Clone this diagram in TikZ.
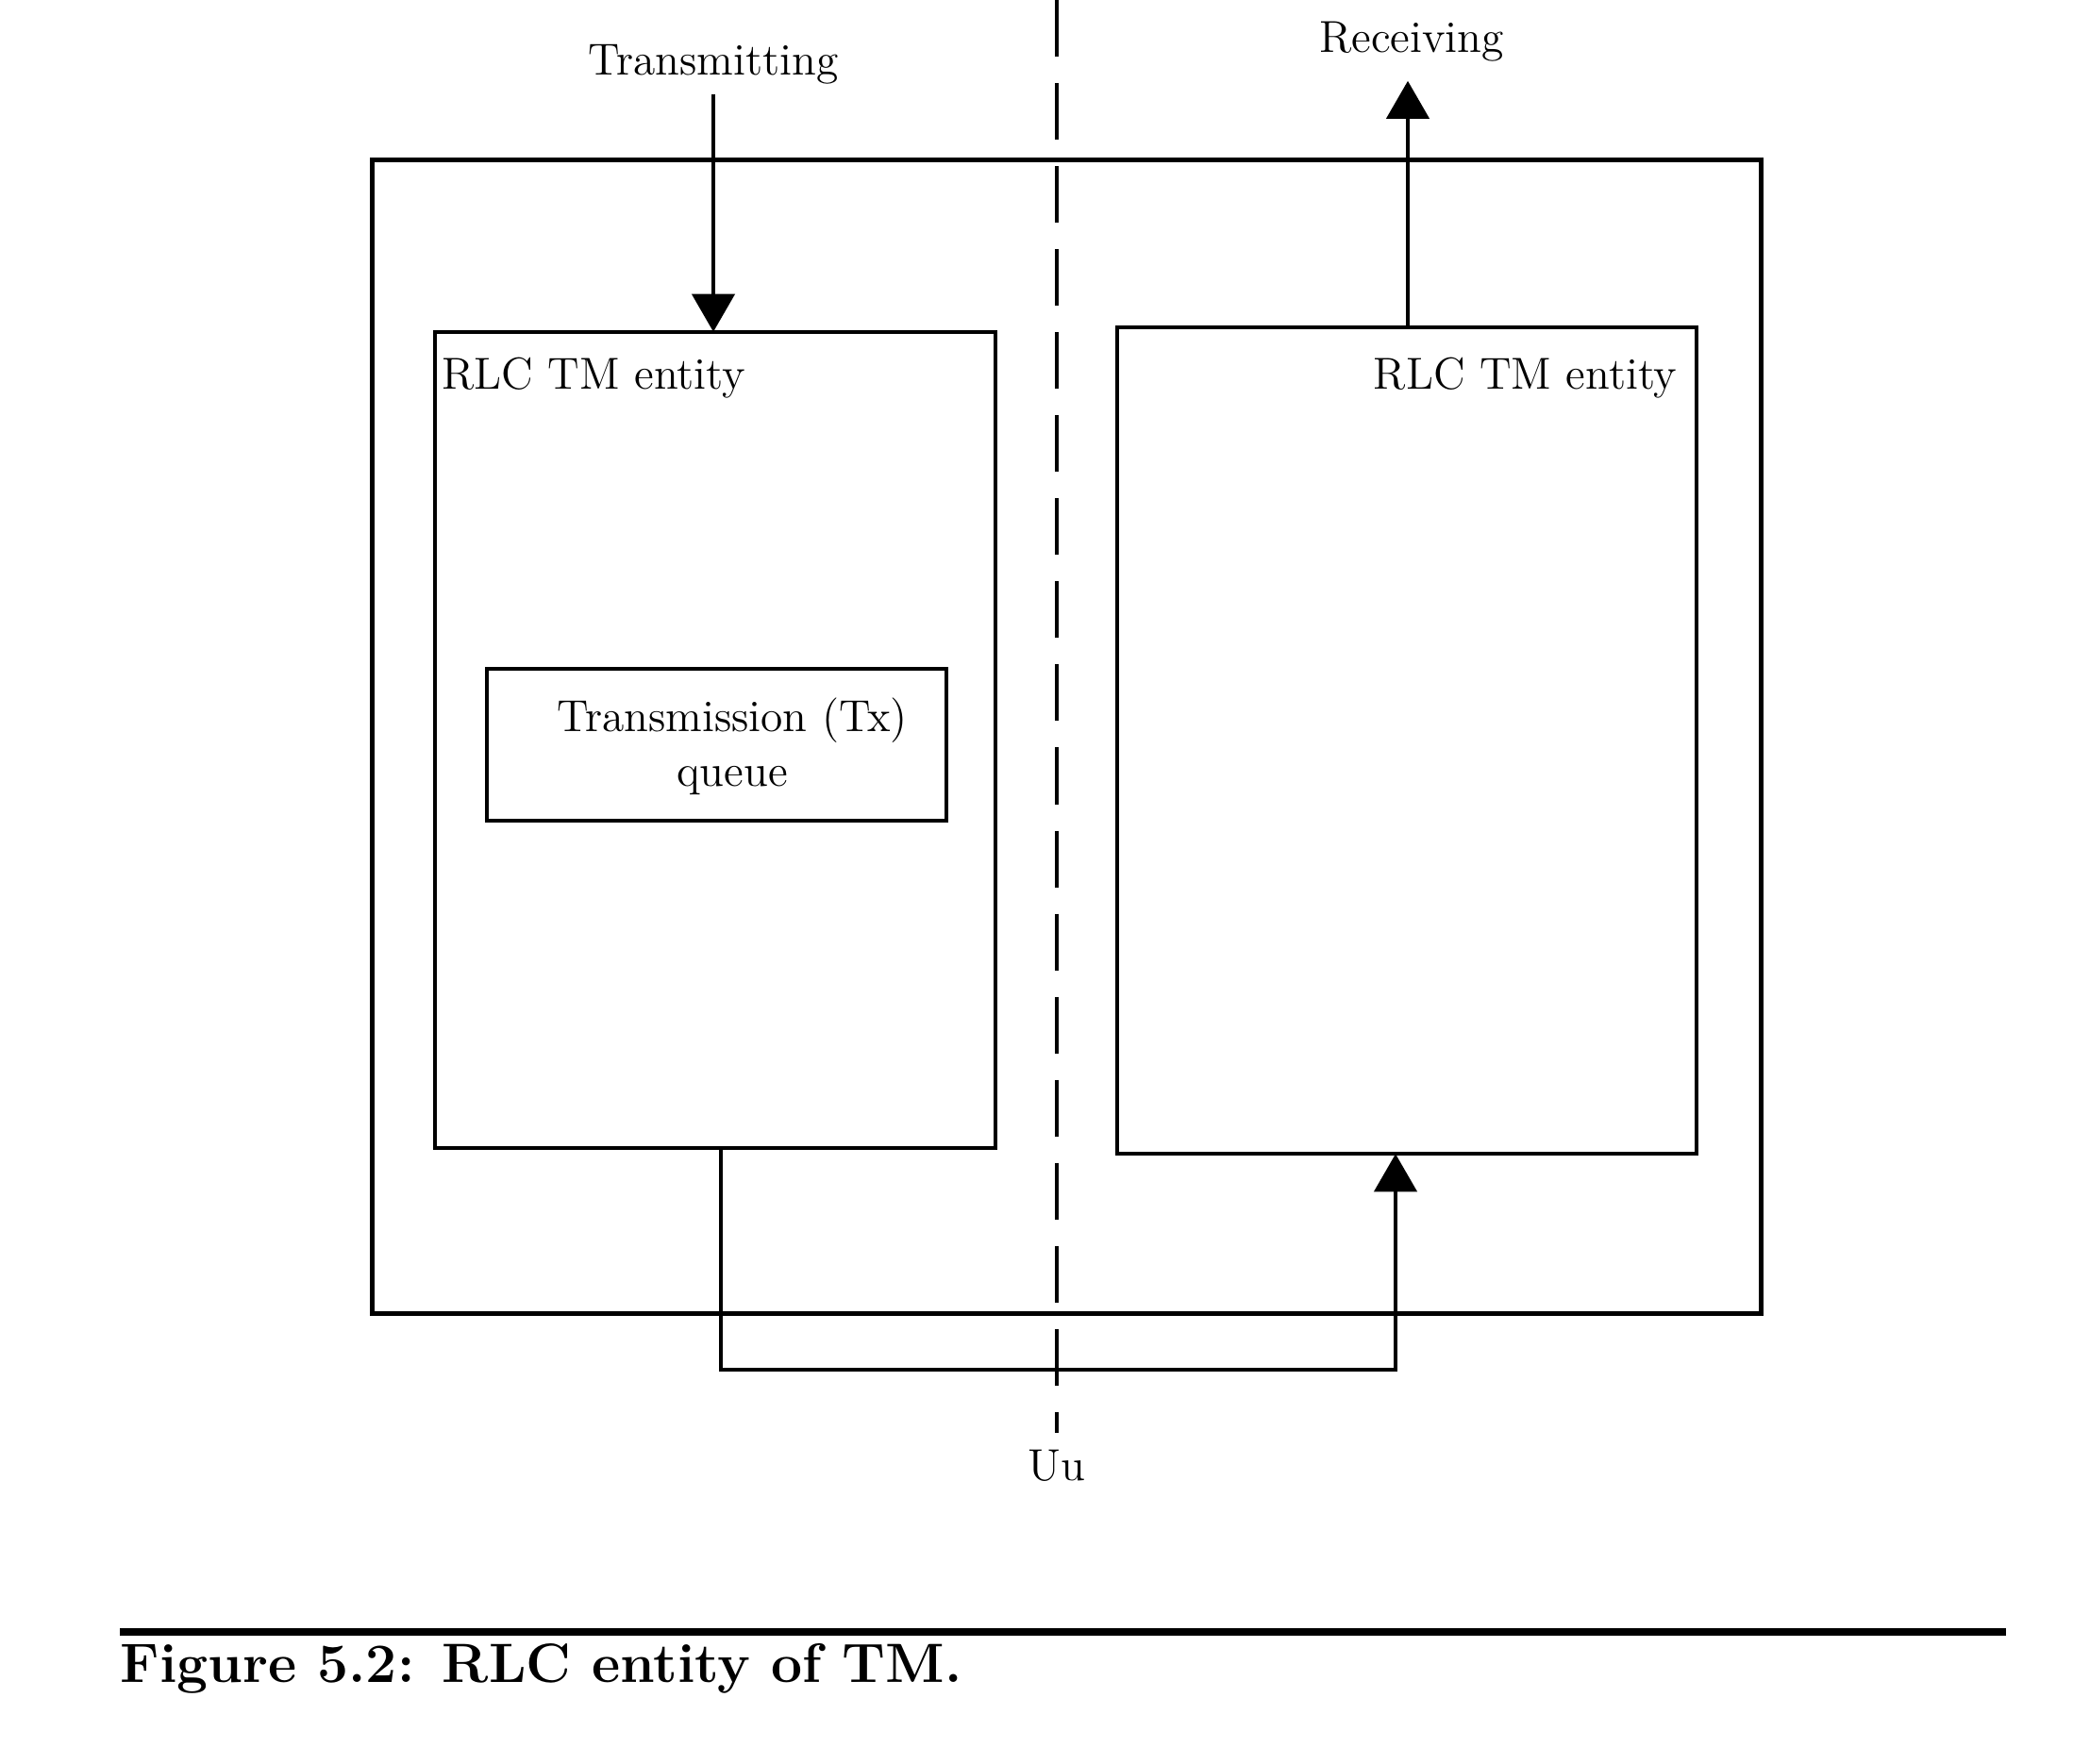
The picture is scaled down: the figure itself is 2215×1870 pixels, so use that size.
\documentclass[tikz,border=0pt]{standalone}
\usetikzlibrary{arrows.meta,calc}
\begin{document}
\begin{tikzpicture}[x=0.01cm,y=-0.01cm,
  box/.style={draw,line width=1.2pt,rectangle,inner sep=0pt,outer sep=0pt},
  lbl/.style={inner sep=0pt,font=\fontsize{13.5}{16.5}\selectfont},
  arr/.style={line width=1.2pt,-{Triangle[length=0.4cm,width=0.45cm]}},
  uuline/.style={line width=1.2pt,dash pattern=on 0.6cm off 0.28cm}]
\useasboundingbox (0,0) rectangle (2215,1870);
% outer box
\node[box,line width=1.4pt,minimum width=14.71cm,minimum height=12.22cm] (outer) at (1130.5,781) {};
% entity boxes
\node[box,minimum width=5.94cm,minimum height=8.65cm] (L) at (758,784.5) {};
\node[box,minimum width=6.14cm,minimum height=8.76cm] (R) at (1491,785) {};
\node[box,minimum width=4.87cm,minimum height=1.61cm] (Q) at (759.5,789.5) {};
% texts
\node[lbl,anchor=north west] (Ltxt) at ([xshift=0.07cm,yshift=-0.27cm]L.north west) {RLC TM entity};
\node[lbl,anchor=north east] (Rtxt) at ([xshift=-0.2cm,yshift=-0.32cm]R.north east) {RLC TM entity};
\node[lbl,align=center] (Qtxt) at (776,791) {Transmission (Tx)\\queue};
\node[lbl] (T) at (756,68) {Transmitting};
\node[lbl] (Rc) at (1496,44) {Receiving};
\node[lbl] (Uu) at (1120,1554) {Uu};
% connectors
\draw[arr] ([yshift=-0.1cm]T.south) -- (T.south |- L.north);
\coordinate (rx) at (1492,0);
\draw[arr] (R.north -| rx) -- ([yshift=-0.2cm]Rc.south -| rx);
\coordinate (bl) at (764,1452);
\coordinate (br) at (1479,1452);
\draw[arr] (L.south -| bl) -- (bl) -- (br) -- (R.south -| br);
% Uu dashed line
\coordinate (dtop) at (1120,0);
\draw[uuline] (dtop) -- ([yshift=0.18cm]Uu.north);
% caption rule and caption
\coordinate (ruleL) at (127,1730);
\coordinate (ruleR) at (2126,1730);
\draw[line width=2pt] (ruleL) -- (ruleR);
\node[inner sep=0pt,anchor=west,font=\fontsize{16.7}{20}\selectfont\bfseries] (cap) at (127,1769) {Figure 5.2: RLC entity of TM.};
\end{tikzpicture}
\end{document}
